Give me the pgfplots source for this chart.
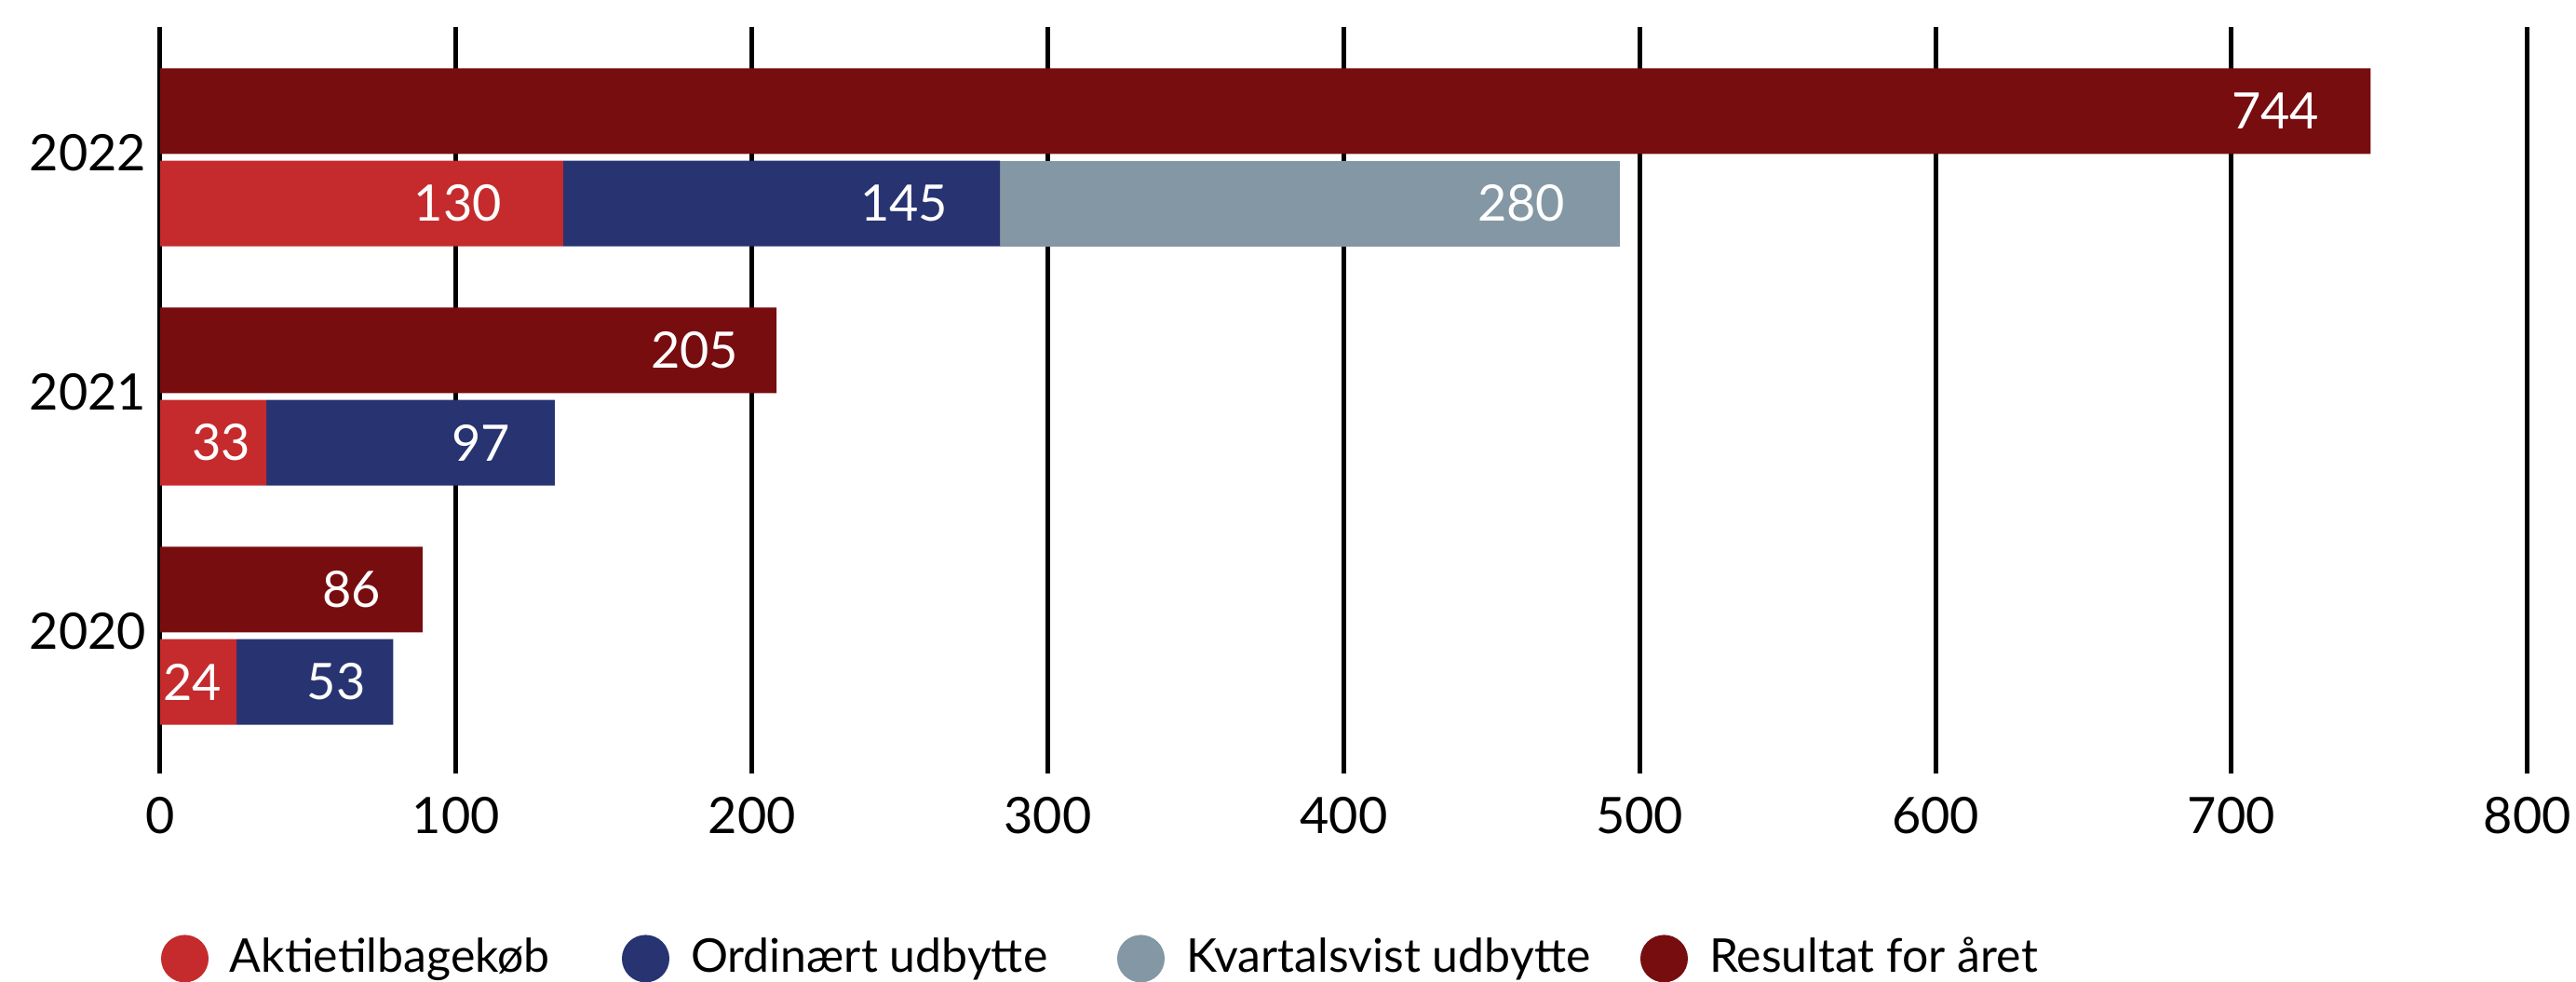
\documentclass[border=0pt]{standalone}
\usepackage{fontspec}
\setmainfont{Lato}
\usepackage{pgfplots}
\usepackage{pgfplotstable}
\pgfplotsset{compat=1.18}
\definecolor{cRed}{RGB}{197,43,44}
\definecolor{cNavy}{RGB}{40,51,113}
\definecolor{cGrey}{RGB}{132,151,164}
\definecolor{cMaroon}{RGB}{120,13,16}

% y: bar position, x: drawn segment length, lab: printed value, dx: label inset (pt)
\pgfplotstableread{
y x lab dx
-0.193 25.8 24 3.0
0.807 35.9 33 3.2
1.807 136.2 130 13.0
}\redtab
\pgfplotstableread{
y x lab dx
-0.193 53.0 53 5.8
0.807 97.5 97 9.4
1.807 147.6 145 11.0
}\navytab
\pgfplotstableread{
y x lab dx
-0.193 0 {} 0
0.807 0 {} 0
1.807 209.6 280 11.6
}\greytab
\pgfplotstableread{
y x lab dx
0.193 88.7 86 8.8
1.193 208.3 205 8.0
2.193 747.0 744 10.8
}\maroontab

\tikzset{labelfont/.style={anchor=east, inner sep=0pt, text=white, font=\fontsize{10.8}{12}\selectfont}}
\pgfplotsset{
  base/.style={
    scale only axis, width=508.54pt, height=160.4pt,
    xmin=0, xmax=800, ymin=-0.576, ymax=2.545,
    axis line style={draw=none}, major tick length=0pt,
  },
  % stacked segments: nodes sit at the segment middle, move them to the end minus inset
  stacklabels/.style={
    nodes near coords, point meta=explicit symbolic,
    visualization depends on={\thisrow{x}*0.317838 - \thisrow{dx} \as \sh},
    nodes near coords style={labelfont, xshift=\sh pt},
  },
  barlabels/.style={
    nodes near coords, point meta=explicit symbolic,
    visualization depends on={\thisrow{dx} \as \dx},
    nodes near coords style={labelfont, xshift=-\dx pt},
  },
}

\begin{document}
\begin{tikzpicture}
\begin{axis}[base, xbar stacked, bar width=0.358, bar shift=0pt,
  xmajorgrids, grid style={black, line width=1pt},
  xtick={0,100,...,800},
  ytick={0.02,1.02,2.02}, yticklabels={2020,2021,2022},
  ticklabel style={font=\fontsize{10.8}{12}\selectfont, inner sep=0pt},
  xticklabel style={yshift=-4.8pt},
  yticklabel style={xshift=-2.8pt},
  /pgf/number format/assume math mode=true,
]
\addplot[fill=cRed, draw=none, stacklabels] table[x=x,y=y,meta=lab]{\redtab};
\addplot[fill=cNavy, draw=none, stacklabels] table[x=x,y=y,meta=lab]{\navytab};
\addplot[fill=cGrey, draw=none, stacklabels] table[x=x,y=y,meta=lab]{\greytab};
\end{axis}
\begin{axis}[base, xbar, bar width=0.358, bar shift=0pt,
  xtick=\empty, ytick=\empty,
  legend columns=4,
  legend cell align=left,
  legend style={at={(0,-0.248)}, anchor=west, draw=none, fill=none, inner sep=0pt,
    nodes={inner sep=0pt}, font=\fontsize{10}{12}\selectfont,
    /tikz/every odd column/.append style={column sep=4.6pt}},
]
\addplot[fill=cMaroon, draw=none, barlabels, forget plot] table[x=x,y=y,meta=lab]{\maroontab};
\addlegendimage{legend image code/.code={\fill[cRed] (0pt,0pt) circle (4.9pt);}}
\addlegendentry{\makebox[84.2pt][l]{Aktietilbagekøb}}
\addlegendimage{legend image code/.code={\fill[cNavy] (0pt,0pt) circle (4.9pt);}}
\addlegendentry{\makebox[91.6pt][l]{Ordinært udbytte}}
\addlegendimage{legend image code/.code={\fill[cGrey] (0pt,0pt) circle (4.9pt);}}
\addlegendentry{\makebox[97.6pt][l]{Kvartalsvist udbytte}}
\addlegendimage{legend image code/.code={\fill[cMaroon] (0pt,0pt) circle (4.9pt);}}
\addlegendentry{Resultat for året}
\end{axis}
\pgfresetboundingbox
\useasboundingbox (-34.4pt,-44.8pt) rectangle (519pt,166.2pt);
\end{tikzpicture}
\end{document}
